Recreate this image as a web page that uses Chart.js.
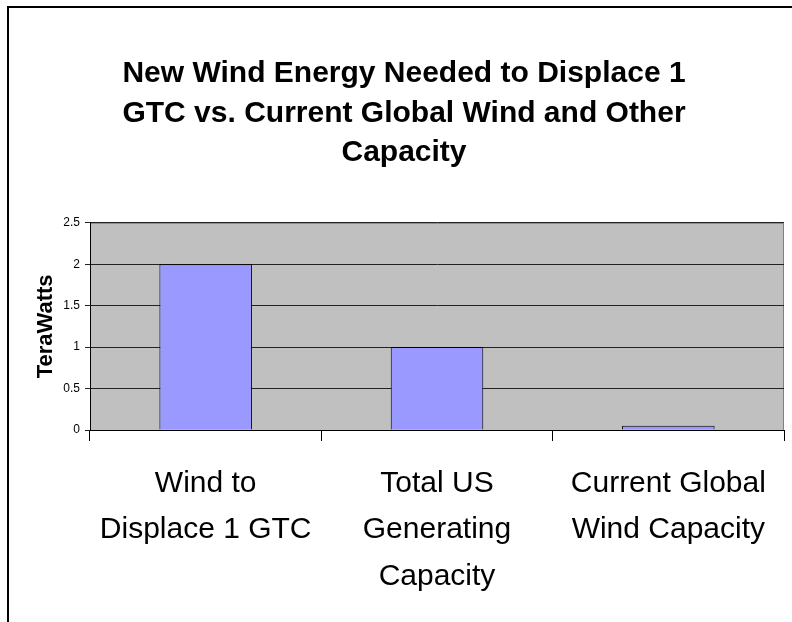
<!DOCTYPE html>
<html>
<head>
<meta charset="utf-8">
<script src="https://cdn.jsdelivr.net/npm/chart.js@4/dist/chart.umd.min.js"></script>
<style>
  html, body { margin: 0; padding: 0; background: #fff; overflow: hidden; }
  #frame { position: absolute; left: 7px; top: 6px; width: 900px; height: 900px; border: 2px solid #000; }
  #wrap { position: absolute; left: 0; top: 0; width: 792px; height: 622px; }
</style>
</head>
<body>
<div id="frame"></div>
<div id="wrap"><canvas id="barChart"></canvas></div>
<script>
// categories + values
var categories = [
  ["Wind to", "Displace 1 GTC"],
  ["Total US", "Generating", "Capacity"],
  ["Current Global", "Wind Capacity"]
];
var teraWatts = [2, 1, 0.05];
var titleLines = ["New Wind Energy Needed to Displace 1", "GTC vs. Current Global Wind and Other", "Capacity"];
var yTicks = [0, 0.5, 1, 1.5, 2, 2.5];

Chart.defaults.font.family = "'Liberation Sans', Arial, sans-serif";
Chart.defaults.color = '#000';

// grey plot background like the old excel charts
var plotBg = {
  id: 'plotBg',
  beforeDraw: function(chart) {
    var a = chart.chartArea, c = chart.ctx;
    c.save();
    c.fillStyle = '#c0c0c0';
    c.fillRect(a.left, a.top, a.right - a.left, a.bottom - a.top);
    c.strokeStyle = '#808080';
    c.lineWidth = 1;
    c.strokeRect(a.left + 0.5, a.top + 0.5, a.right - a.left - 1, a.bottom - a.top);
    c.restore();
  }
};

var ctxB = document.getElementById("barChart").getContext('2d');
var myBarChart = new Chart(ctxB, {
  type: 'bar',
  data: {
    labels: categories,
    datasets: [{
      label: "TeraWatts",
      data: teraWatts,
      backgroundColor: '#9999ff',
      borderColor: '#000',
      borderWidth: 1,
      categoryPercentage: 1,
      barPercentage: 0.4
    }]
  },
  options: {
    responsive: true,
    maintainAspectRatio: false,
    animation: false,
    layout: { padding: { left: 24, right: 8, top: 0, bottom: 0 } },
    plugins: {
      legend: { display: false },
      tooltip: { enabled: false },
      title: {
        display: true,
        text: titleLines,
        color: '#000',
        font: { size: 30, weight: 'bold', lineHeight: 1.32 },
        padding: { top: 54, bottom: 50 }
      }
    },
    scales: {
      x: {
        offset: true,
        grid: { drawOnChartArea: false, drawTicks: true, tickLength: 11, color: '#000', offset: true },
        border: { color: '#000', width: 1 },
        ticks: { font: { size: 30, lineHeight: 1.56 }, padding: 19, maxRotation: 0, autoSkip: false },
        afterFit: function(s) { s.height = 192; }
      },
      y: {
        min: yTicks[0],
        max: yTicks[yTicks.length - 1],
        afterBuildTicks: function(s) { s.ticks = yTicks.map(function(v) { return { value: v }; }); },
        grid: { color: '#222', tickLength: 5 },
        border: { color: '#000', width: 1 },
        ticks: { font: { size: 12 }, padding: 5, callback: function(v) { return String(v); } },
        title: {
          display: true,
          text: 'TeraWatts',
          font: { size: 22, weight: 'bold', lineHeight: 1.2 },
          padding: { top: 9, bottom: 0 }
        },
        afterFit: function(s) { s.width = 66; }
      }
    }
  },
  plugins: [plotBg]
});
</script>
</body>
</html>
